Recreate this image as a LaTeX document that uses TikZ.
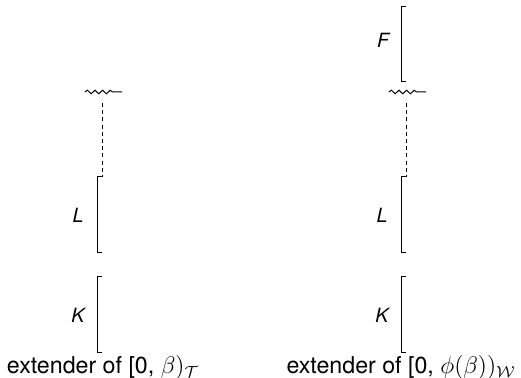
\documentclass[tikz,border=0pt]{standalone}
\usepackage{fontspec}
\setmainfont{TeX Gyre Heros}
\usepackage{tikz}
\usetikzlibrary{decorations.pathmorphing}
\tikzset{
  bracket/.style={line width=0.5pt},
  wavy/.style={line width=0.5pt,decorate,decoration={snake,amplitude=0.9pt,segment length=3.8pt,post length=3.5pt}},
  dashline/.style={line width=0.5pt,dash pattern=on 2pt off 1.6pt},
  extlab/.style={font=\fontsize{9.8}{12}\selectfont\itshape},
  caption/.style={font=\fontsize{11.6}{13}\selectfont,anchor=base,inner sep=0pt}
}
\begin{document}
\begin{tikzpicture}[x=0.5pt,y=-0.5pt]
\useasboundingbox (0,0) rectangle (521,378);
% two columns of extenders
\foreach \col/\xx in {l/97,r/401}{
  \foreach \lab/\ytop in {K/277,L/177}{
    \coordinate (\col\lab top) at (\xx+5,\ytop);
    \coordinate (\col\lab bot) at (\xx+5,\ytop+76);
    \draw[bracket] (\col\lab top) -- ++(-5,0) |- (\col\lab bot);
    \node[extlab] (\col\lab) at (\xx-19,\ytop+38) {\lab};
  }
  \coordinate (\col wave) at (\xx-12,92);
  \coordinate (\col dash) at (\xx+5,103);
  \draw[wavy] (\col wave) -- ++(37,0);
  \draw[dashline] (\col dash) -- (\col Ltop);
}
% top extender on the right
\coordinate (rFtop) at (406,7);
\coordinate (rFbot) at (406,82);
\draw[bracket] (rFtop) -- ++(-5,0) |- (rFbot);
\node[extlab] (rF) at (383,40) {F};
\node[caption] (lcap) at (103,374) {extender of [0, $\beta)_{\mathcal{T}}$};
\node[caption] (rcap) at (401,374) {extender of [0, $\phi(\beta))_{\mathcal{W}}$};
\end{tikzpicture}
\end{document}
